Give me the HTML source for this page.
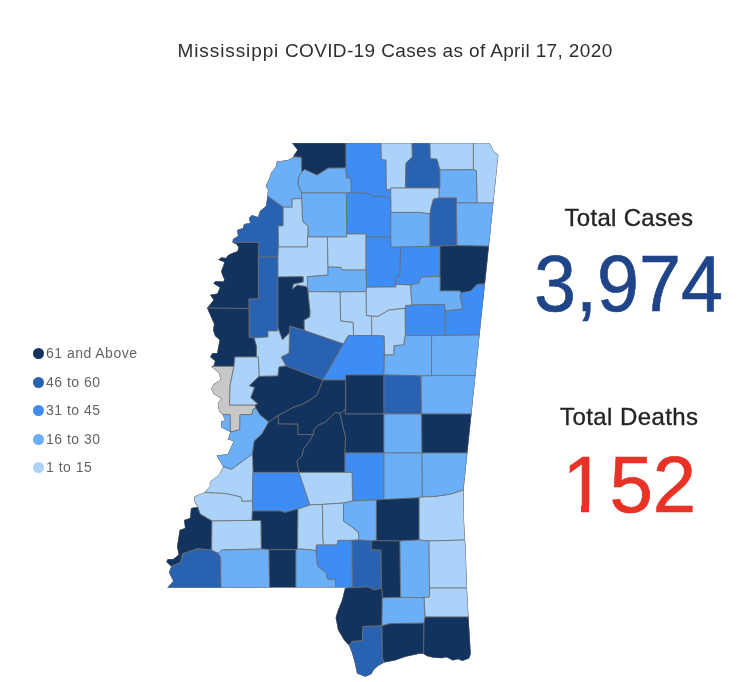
<!DOCTYPE html>
<html lang="en">
<head>
<meta charset="utf-8">
<title>Mississippi COVID-19 Cases</title>
<style>
html,body{margin:0;padding:0;background:#fff;}
body{width:750px;height:682px;position:relative;overflow:hidden;font-family:"Liberation Sans",sans-serif;}
#title{position:absolute;left:0;top:0;}
.abs{position:absolute;white-space:nowrap;line-height:1;}
#map{position:absolute;left:0;top:0;filter:blur(0.3px);}
#map polygon{stroke:#6e6e6e;stroke-width:0.9;stroke-opacity:0.85;stroke-linejoin:round;}
.c0{fill:#c8c8c8}
.c1{fill:#abd3fa}
.c2{fill:#6aaff7}
.c3{fill:#3e8df5}
.c4{fill:#2962b0}
.c5{fill:#13335f}
.cv{position:absolute;background:#fff;}
.lg{position:absolute;left:0;height:20px;width:160px;}
.dot{position:absolute;left:32.5px;top:4.5px;width:11px;height:11px;border-radius:50%;}
.lt{position:absolute;left:46px;top:-0.5px;line-height:20px;font-size:14px;letter-spacing:0.48px;color:#666462;white-space:nowrap;transform-origin:0 50%;}
</style>
</head>
<body>
<svg id="map" width="750" height="682" viewBox="0 0 750 682">
<defs><clipPath id="st"><path d="M166.2,561.8 L171.1,566.6 L168.9,572.5 L173.2,581 L167.3,587.8 L221,587.8 L269.6,587.6 L346.9,587.6 L347,587.8 L346.9,587.9 L345,588 L342,600 L338,610 L335.6,617.6 L338,630 L344,640 L349,645.6 L352,653 L355,664 L357,673.6 L365.2,676.7 L371.3,674.3 L373.9,669.7 L378,666 L384.4,662.6 L395,660.5 L405.7,656.7 L419.6,653.8 L423.6,654 L427.1,656.2 L433.5,657.8 L442.1,658.3 L446.4,657.2 L452.8,660.5 L458.2,659.2 L462.5,661 L469,658.5 L470.8,654 L468.6,617 L467,588 L465.6,546 L465,540 L464,520 L463.6,490 L475.5,375.6 L479.6,335 L489,246.2 L493.4,203 L498.4,155 L493.6,151 L489.6,143 L292,143 L297.4,150 L293,156.6 L294.5,156.8 L294.6,156.8 L294.6,157 L294.5,157 L293.6,157 L288,160 L277,161.4 L275.6,167 L271,173 L269,179 L265.6,186 L268,190 L267.4,196 L266,206 L260,211 L258,216.9 L257.9,217 L252,215 L249,218 L250,222.8 L249.9,223 L244,224 L243,228 L237,230 L238,236 L233,239 L232.4,242.4 L236.7,244.4 L238.5,247.7 L237.3,251.3 L232.3,252.9 L228.2,254.9 L225.8,258.1 L221.4,257.3 L218.1,259.8 L224.1,262.2 L224.2,262.2 L223,266.6 L221.1,271 L222.2,275.1 L224.2,279.5 L223.3,281.5 L215.7,281.1 L213.3,283.5 L219.7,287.5 L219.8,287.7 L217.3,293.6 L210,294.8 L213.6,300 L207,308 L214,324 L213,330 L215,336 L219.6,340 L217,352.9 L216.9,353 L212.4,353 L210,357 L215,361 L213.6,365.6 L211.4,366.4 L219.3,373.4 L220.3,379.7 L220.2,379.9 L213.9,384.1 L211.2,388.9 L213.9,394.3 L221.3,398.5 L221.3,398.6 L217.7,403.4 L219.1,411.4 L222.5,414.6 L225.1,420.4 L225,420.5 L220.9,421.6 L221.4,427.5 L230.3,432 L230.4,432.1 L227.8,439.5 L233.5,441.1 L233.6,441.2 L227.8,454 L216.6,455.6 L223,466.7 L223,466.9 L219.3,474.3 L217.1,476.4 L211.2,480.7 L209.6,482.8 L210.2,486 L204.3,492.5 L194.4,496.4 L194,501 L197.5,506.9 L197.4,507 L191,508 L190,518 L184,520 L185,528 L179.6,530 L177,546.8 L178.6,554.8 L173.2,559.1 L167.8,559.1Z"/></clipPath></defs>
<path d="M166.2,561.8 L171.1,566.6 L168.9,572.5 L173.2,581 L167.3,587.8 L221,587.8 L269.6,587.6 L346.9,587.6 L347,587.8 L346.9,587.9 L345,588 L342,600 L338,610 L335.6,617.6 L338,630 L344,640 L349,645.6 L352,653 L355,664 L357,673.6 L365.2,676.7 L371.3,674.3 L373.9,669.7 L378,666 L384.4,662.6 L395,660.5 L405.7,656.7 L419.6,653.8 L423.6,654 L427.1,656.2 L433.5,657.8 L442.1,658.3 L446.4,657.2 L452.8,660.5 L458.2,659.2 L462.5,661 L469,658.5 L470.8,654 L468.6,617 L467,588 L465.6,546 L465,540 L464,520 L463.6,490 L475.5,375.6 L479.6,335 L489,246.2 L493.4,203 L498.4,155 L493.6,151 L489.6,143 L292,143 L297.4,150 L293,156.6 L294.5,156.8 L294.6,156.8 L294.6,157 L294.5,157 L293.6,157 L288,160 L277,161.4 L275.6,167 L271,173 L269,179 L265.6,186 L268,190 L267.4,196 L266,206 L260,211 L258,216.9 L257.9,217 L252,215 L249,218 L250,222.8 L249.9,223 L244,224 L243,228 L237,230 L238,236 L233,239 L232.4,242.4 L236.7,244.4 L238.5,247.7 L237.3,251.3 L232.3,252.9 L228.2,254.9 L225.8,258.1 L221.4,257.3 L218.1,259.8 L224.1,262.2 L224.2,262.2 L223,266.6 L221.1,271 L222.2,275.1 L224.2,279.5 L223.3,281.5 L215.7,281.1 L213.3,283.5 L219.7,287.5 L219.8,287.7 L217.3,293.6 L210,294.8 L213.6,300 L207,308 L214,324 L213,330 L215,336 L219.6,340 L217,352.9 L216.9,353 L212.4,353 L210,357 L215,361 L213.6,365.6 L211.4,366.4 L219.3,373.4 L220.3,379.7 L220.2,379.9 L213.9,384.1 L211.2,388.9 L213.9,394.3 L221.3,398.5 L221.3,398.6 L217.7,403.4 L219.1,411.4 L222.5,414.6 L225.1,420.4 L225,420.5 L220.9,421.6 L221.4,427.5 L230.3,432 L230.4,432.1 L227.8,439.5 L233.5,441.1 L233.6,441.2 L227.8,454 L216.6,455.6 L223,466.7 L223,466.9 L219.3,474.3 L217.1,476.4 L211.2,480.7 L209.6,482.8 L210.2,486 L204.3,492.5 L194.4,496.4 L194,501 L197.5,506.9 L197.4,507 L191,508 L190,518 L184,520 L185,528 L179.6,530 L177,546.8 L178.6,554.8 L173.2,559.1 L167.8,559.1Z" fill="#6e6e6e"/>
<g clip-path="url(#st)">
<polygon class="c5" points="292,143 346,143 346,168 328.2,168.2 317,175.2 304.6,169.5 301.6,172.5 301.2,157.4 293,156.6 297.4,150"/>
<polygon class="c2" points="301.2,157.4 293.6,157 288,160 277,161.4 275.6,167 271,173 269,179 265.6,186 268,190 267.4,196 283,207.2 292.2,207.2 292,199 301.6,198.4 301.6,193 298,184 299,176.4 301.6,172.5"/>
<polygon class="c2" points="301.6,172.5 304.6,169.5 317,175.2 328.2,168.2 346,168 346.4,178 351,178 351.4,192.6 346.4,193 301.6,193 298,184 299,176.4"/>
<polygon class="c3" points="346,143 381,143 381.4,159.4 386,160 386.4,189.4 390.8,189.6 390.8,199 384,196 378,196.6 373,196.5 369,193.6 351.4,192.6 351,178 346.4,178 346,168"/>
<polygon class="c1" points="381,143 412,143 412.4,157 406,163 405.4,188 390.8,188 390.8,189.6 386.4,189.4 386,160 381.4,159.4"/>
<polygon class="c4" points="412,143 430,143 430.4,158.4 437,159 440,170 440,188 405.4,188 406,163 412.4,157"/>
<polygon class="c1" points="430,143 473.4,143 473.4,169.6 440,170 437,159 430.4,158.4"/>
<polygon class="c1" points="473.4,143 489.6,143 493.6,151 498.4,155 493.4,203 477,203 476.4,171 473.4,169.6"/>
<polygon class="c2" points="440,170 473.4,169.6 476.4,171 477,203 456.4,203 456.4,198 439,198 439,188 440,188"/>
<polygon class="c1" points="390.8,188 439,188 439,198 433.6,199 431,208 430,214 420,212.4 390.8,212.4"/>
<polygon class="c3" points="346.4,193 351.4,192.6 369,193.6 373,196.5 378,196.6 384,196 390.8,199 390.8,237 366,237 365.8,234 346.6,234"/>
<polygon class="c2" points="301.6,193 346.4,193 346.6,234 346.8,237 327.4,237 308,237 308,226 303,222 302.4,218 301.6,198.4"/>
<polygon class="c1" points="292,199 301.6,198.4 302.4,218 303,222 308,226 307.6,247 278.4,247 278,226 283,225.6 283,207.2 292.2,207.2"/>
<polygon class="c4" points="267.4,196 266,206 260,211 258,217 252,215 249,218 250,223 244,224 243,228 237,230 238,236 233,239 232.4,242.4 258.4,242.4 258.4,257 278,257 278.4,247 278,226 283,225.6 283,207.2"/>
<polygon class="c5" points="232.4,242.4 236.7,244.4 238.5,247.7 237.3,251.3 232.3,252.9 228.2,254.9 225.8,258.1 221.4,257.3 218.1,259.8 224.2,262.2 223,266.6 221.1,271 222.2,275.1 224.2,279.5 223.4,281.5 215.7,281.1 213.3,283.5 219.8,287.6 217.3,293.6 210,294.8 213.6,300 207,308 249,308.6 249,299 258.4,299 258.4,257 258.4,242.4"/>
<polygon class="c4" points="258.4,257 278,257 278,277 278,328 277.4,331 268,331 268,337 254,338 249,337.3 249,308.6 249,299 258.4,299"/>
<polygon class="c1" points="278.4,247 307.6,247 307.4,237 327.4,237 328,267 328,275 307.4,276.8 307.5,288 305.5,286.4 297.4,285.2 292.2,289.2 293.4,284 303.1,281.9 303.1,276.8 278,277 278,257"/>
<polygon class="c1" points="327.4,237 346.8,237 346.6,234 365.8,234 366,237 366,270 342,270 341,267.4 328,267"/>
<polygon class="c3" points="366,237 390.8,237 391,247 400.6,247 400,275.6 396,277 396,284.4 395.8,287 366.5,287.2 366,270"/>
<polygon class="c2" points="390.8,212.4 420,212.4 430,214 430,246.4 400.6,247 391,247 390.8,237"/>
<polygon class="c4" points="433.6,199 439,198 456.4,198 456.4,203 457,245.6 440,246 430,246.4 430,214 431,208"/>
<polygon class="c2" points="456.4,203 477,203 493.4,203 489,246.2 457,245.6"/>
<polygon class="c3" points="400.6,247 430,246.4 440,246 440,276.4 421,277 419,283 410.5,285 396,284.4 396,277 400,275.6"/>
<polygon class="c5" points="440,246 457,245.6 489,246.2 485,284 477,284.4 471,291 461,293 460,291 440,291 440,276.4"/>
<polygon class="c2" points="421,277 440,276.4 440,291 460,291 461,293 460,296 463,309 445,311 444.4,304.4 412,305 411,296 410.5,285 419,283"/>
<polygon class="c3" points="485,284 477,284.4 471,291 461,293 460,296 463,309 445,311 445,335.4 479.6,335"/>
<polygon class="c3" points="405.6,305.4 412,305 444.4,304.4 445,311 445,335.4 431.6,335.6 405.3,335.6 405,308.4"/>
<polygon class="c1" points="366.5,287.2 395.8,287 396,284.4 410.5,285 411,296 412,305 405.6,305.4 405,308.4 389,310 378,316.4 371.6,316.2 366.4,315.6 366,291.6"/>
<polygon class="c1" points="378,316.4 389,310 405,308.4 405.3,335.6 403.6,345 394.2,345.6 394,355 384.4,355 384,336 371.6,335.6 371.6,316.2"/>
<polygon class="c2" points="307.4,276.8 328,275 328,267 341,267.4 342,270 366,270 366.5,287.2 366,291.6 340,292 308,291.6 307.5,288"/>
<polygon class="c1" points="340,292 366,291.6 366.4,315.6 371.6,316.2 371.6,335.6 353.6,335.6 353,322.4 340.6,321"/>
<polygon class="c1" points="307.5,288 308,291.6 340,292 340.6,321 353,322.4 353.6,335.6 349,335.6 348,336 343.5,344 304.2,330.5 304,320 309.6,317 310,312"/>
<polygon class="c5" points="278,277 303.1,276.8 303.1,281.9 293.4,284 292.2,289.2 297.4,285.2 305.5,286.4 307.5,288 310,312 309.6,317 304,320 304.2,330.5 290,326 289.4,333 282.4,340 278,328"/>
<polygon class="c4" points="290,326 304.2,330.5 343.5,344 323,380 286,366 281,357 289,353 289.4,333"/>
<polygon class="c1" points="268,331 277.4,331 278,328 282.4,340 289.4,333 289,353 281,357 286,366 279,367 278,376 259,376.4 258.4,357 256.4,357 256.4,346 254,338 268,337"/>
<polygon class="c5" points="207,308 249,308.6 249,337.3 254,338 256.4,346 256.4,357 235,357 234,366.4 211.4,366.4 213.6,365.6 215,361 210,357 212.4,353 217,353 219.6,340 215,336 213,330 214,324"/>
<polygon class="c0" points="211.4,366.4 234,366.4 232,376 230,386 229.6,405 255,405 255.6,408 253,409.5 252,414.6 240,414.6 239.8,429.8 230.4,432 230,414.6 222.5,414.6 219.1,411.4 217.7,403.4 221.4,398.5 213.9,394.3 211.2,388.9 213.9,384.1 220.3,379.8 219.3,373.4"/>
<polygon class="c1" points="235,357 256.4,357 258.4,357 259,376.4 249.5,385.7 254.6,387.5 250.9,397.5 257.8,403.9 255,405 229.6,405 230,386 232,376 234,366.4"/>
<polygon class="c5" points="259,376.4 278,376 279,367 286,366 323,380 317,395 310,400 301,405 294,407 287,411 278,415.6 268.6,422 260,415 255.6,408 255,405 257.8,403.9 250.9,397.5 254.6,387.5 249.5,385.7"/>
<polygon class="c2" points="222.5,414.6 230,414.6 230.4,432 239.8,429.8 240,414.6 252,414.6 253,409.5 255.6,408 260,415 268.6,422 262,434 254.4,441 252.4,454 231.6,469.4 223,466.8 216.6,455.6 227.8,454 233.7,441.1 227.8,439.5 230.4,432 221.4,427.5 220.9,421.6 225.2,420.5"/>
<polygon class="c3" points="348,336 349,335.6 353.6,335.6 371.6,335.6 384,336 384.4,355 384,375 345.6,375 345.6,380 323,380 343.5,344"/>
<polygon class="c2" points="405.3,335.6 431.6,335.6 431.6,375.6 421,376 413,375.6 384,375 384.4,355 394,355 394.2,345.6 403.6,345"/>
<polygon class="c2" points="431.6,335.6 445,335.4 479.6,335 475.5,375.6 431.6,375.6"/>
<polygon class="c5" points="345.6,375 384,375 384,414 345,414 345.6,409 345.6,380"/>
<polygon class="c4" points="384,375 413,375.6 421,376 421.6,414 384,414"/>
<polygon class="c2" points="421,376 431.6,375.6 475.5,375.6 471.5,414 421.6,414"/>
<polygon class="c5" points="323,380 345.6,380 345.6,409 340,413.5 335.6,412.4 325.5,422 317.4,425.6 314,429.7 313.4,434.5 297.8,434.5 297.8,424.2 278.4,424 278,415.6 287,411 294,407 301,405 310,400 317,395"/>
<polygon class="c5" points="268.6,422 278,415.6 278.4,424 297.8,424.2 297.8,434.5 313.4,434.5 309,442 303.6,449 302,456 297,461 299,472.4 253,472.4 252.4,454 254.4,441 262,434"/>
<polygon class="c5" points="314,429.7 317.4,425.6 325.5,422 335.6,412.4 340,413.5 343.2,427.3 345.6,437 345,453 345,472.4 299,472.4 297,461 302,456 303.6,449 309,442 313.4,434.5"/>
<polygon class="c5" points="340,413.5 345.6,409 345,414 384,414 384,453 345,453 345.6,437 343.2,427.3"/>
<polygon class="c2" points="384,414 421.6,414 422,453 384,453"/>
<polygon class="c5" points="421.6,414 471.5,414 467.4,453 422,453"/>
<polygon class="c3" points="345,453 384,453 384,499.5 376.4,500 352.5,501 352,472.4 345,472.4"/>
<polygon class="c2" points="384,453 422,453 422.4,497 419,497.8 384,499.5"/>
<polygon class="c2" points="422,453 467.4,453 463.6,490 450,494.4 436,496.4 422.4,497"/>
<polygon class="c1" points="419,497.8 422.4,497 436,496.4 450,494.4 463.6,490 464,520 465,540 429,541 419,540"/>
<polygon class="c1" points="231.6,469.4 252.4,454 253,472.4 252.4,501 242,501.4 241,497 226,493.6 204.3,492.5 210.2,486 209.6,482.8 211.2,480.7 217.1,476.4 219.3,474.3 223,466.8"/>
<polygon class="c3" points="253,472.4 299,472.4 310,505 298,509 285,512.4 280,511 252.4,511 252.4,501"/>
<polygon class="c1" points="299,472.4 345,472.4 352,472.4 352.5,501 343.6,503 322.4,504.4 310,505"/>
<polygon class="c1" points="204.3,492.5 226,493.6 241,497 242,501.4 252.4,501 252.4,511 252,520.4 212,521 200,514 197.6,507 194,501 194.4,496.4"/>
<polygon class="c5" points="197.6,507 200,514 212,521 211.7,550 197.8,548.7 182.8,553.7 180.7,562.3 171.1,566.6 166.2,561.8 167.8,559.1 173.2,559.1 178.6,554.8 177,546.8 179.6,530 185,528 184,520 190,518 191,508"/>
<polygon class="c4" points="171.1,566.6 180.7,562.3 182.8,553.7 197.8,548.7 211.7,550 218.2,553.2 220.8,557.5 221,587.8 167.3,587.8 173.2,581 168.9,572.5"/>
<polygon class="c1" points="212,521 252,520.4 261,520.6 261.4,549 222,550 218.2,553.2 211.7,550"/>
<polygon class="c5" points="252.4,511 280,511 285,512.4 298,509 297.6,549 296,549.6 269,549.6 261.4,549 261,520.6 252,520.4"/>
<polygon class="c2" points="222,550 261.4,549 269,549.6 269.6,587.6 221,587.8 220.8,557.5 218.2,553.2"/>
<polygon class="c5" points="269,549.6 296,549.6 296,587.6 269.6,587.6"/>
<polygon class="c1" points="298,509 310,505 322.4,504.4 323,540 323.6,545 316.4,545 316,551 310,549.6 297.6,549"/>
<polygon class="c1" points="322.4,504.4 343.6,503 343.6,521 352,527 358.4,532.4 359,540 352,540.4 338,540.4 337,545 323.6,545 323,540"/>
<polygon class="c2" points="343.6,503 352.5,501 376.4,500 376.4,540.6 371.6,541 359,540 358.4,532.4 352,527 343.6,521"/>
<polygon class="c5" points="376.4,500 384,499.5 419,497.8 419,540 400,541 376.4,540.6"/>
<polygon class="c2" points="296,549.6 297.6,549 310,549.6 316,551 317.6,566 326.4,573 327.6,579 335.6,579.4 335.6,587.6 296,587.6"/>
<polygon class="c3" points="316.4,545 323.6,545 337,545 338,540.4 352,540.4 352.4,587.6 335.6,587.6 335.6,579.4 327.6,579 326.4,573 317.6,566 316,551"/>
<polygon class="c4" points="352,540.4 359,540 371.6,541 371.6,549.6 381,550 381.6,588 374.4,590 368,587 352.4,587.6"/>
<polygon class="c5" points="371.6,541 376.4,540.6 400,541 400.6,597.4 382.4,597.9 381.6,588 381,550 371.6,549.6"/>
<polygon class="c2" points="400,541 419,540 429,541 429.6,588 429.6,597 424,597.6 400.6,597.4"/>
<polygon class="c1" points="429,541 465,540 465.6,546 467,588 429.6,588"/>
<polygon class="c1" points="429.6,588 467,588 468.6,617 425,617 424,597.6 429.6,597"/>
<polygon class="c5" points="345,588 352.4,587.6 368,587 374.4,590 381.6,588 382.4,597.9 382,625.8 363,626.5 362.4,640.6 352,641.6 349,645.6 344,640 338,630 335.6,617.6 338,610 342,600"/>
<polygon class="c2" points="382.4,597.9 400.6,597.4 424,597.6 425,617 424,623.2 390.5,623.6 382,625.8"/>
<polygon class="c4" points="363,626.5 382,625.8 382.4,658 384.4,662.6 378,666 373.9,669.7 371.3,674.3 365.2,676.7 357,673.6 355,664 352,653 349,645.6 352,641.6 362.4,640.6"/>
<polygon class="c5" points="382,625.8 390.5,623.6 424,623.2 423.6,654 419.6,653.8 405.7,656.7 395,660.5 384.4,662.6 382.4,658"/>
<polygon class="c5" points="425,617 468.6,617 470.8,654 469,658.5 462.5,661 458.2,659.2 452.8,660.5 446.4,657.2 442.1,658.3 433.5,657.8 427.1,656.2 423.6,654 424,623.2"/>
</g>
</svg>
<div id="ttl" class="abs" style="left:177.5px;top:41px;font-size:19px;letter-spacing:0.37px;color:#2e2e2e;"><span style="letter-spacing:0.9px">Mississippi</span> COVID-19 Cases as of April 17, 2020</div>
<div class="lg" style="top:343.7px"><span class="dot" style="background:#13335f"></span><span class="lt">61 and Above</span></div>
<div class="lg" style="top:372.2px"><span class="dot" style="background:#2962b0"></span><span class="lt">46 to 60</span></div>
<div class="lg" style="top:400.6px"><span class="dot" style="background:#3e8df5"></span><span class="lt">31 to 45</span></div>
<div class="lg" style="top:429.0px"><span class="dot" style="background:#6aaff7"></span><span class="lt">16 to 30</span></div>
<div class="lg" style="top:457.4px"><span class="dot" style="background:#abd3fa"></span><span class="lt">1 to 15</span></div>

<div id="tc" class="abs" style="left:564.5px;top:205.5px;font-size:24px;letter-spacing:0.3px;color:#252423;-webkit-text-stroke:0.35px #252423;">Total Cases</div>
<div id="tcn" class="abs" style="left:534px;top:244px;font-size:80px;color:#1f4488;-webkit-text-stroke:0.7px #1f4488;transform:scaleX(0.9436);transform-origin:0 0;">3,974</div>
<div id="td" class="abs" style="left:560px;top:405px;font-size:24px;letter-spacing:0.42px;color:#252423;-webkit-text-stroke:0.35px #252423;">Total Deaths</div>
<div id="tdn" class="abs" style="left:565.5px;top:445px;font-size:80px;color:#e83226;-webkit-text-stroke:0.7px #e83226;transform:scaleX(0.975);transform-origin:0 0;"><span style="position:relative;left:-3.7px">1</span>52</div>
<div class="cv" style="left:560px;top:505px;width:21.3px;height:9px"></div><div class="cv" style="left:588.7px;top:505px;width:16px;height:9px"></div>
</body>
</html>
